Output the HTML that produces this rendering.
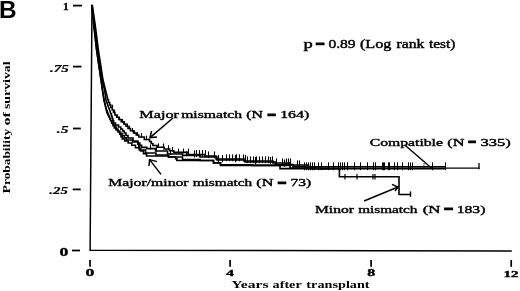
<!DOCTYPE html>
<html><head><meta charset="utf-8"><title>Figure B</title>
<style>
html,body{margin:0;padding:0;background:#fff;}
svg{display:block;}
text{font-family:"Liberation Serif",serif;fill:#000;}
.b{font-family:"Liberation Sans",sans-serif;font-weight:bold;}
</style></head><body>
<svg width="520" height="291" viewBox="0 0 520 291">
<rect width="520" height="291" fill="#fff"/>
<text class="b" x="-1" y="18" font-size="24.4">B</text>
<path d="M92.0 4.6L90.1 250.3L511.8 250.9" fill="none" stroke="#000" stroke-width="1.5"/><path d="M73 5.6H82" stroke="#000" stroke-width="1.8"/><path d="M73 66.6H81.5" stroke="#000" stroke-width="1.8"/><path d="M73 128.5H80.8" stroke="#000" stroke-width="1.8"/><path d="M72.7 189.4H80.7" stroke="#000" stroke-width="1.8"/><path d="M72 250.5H80" stroke="#000" stroke-width="1.8"/><path d="M90 260V266.8" stroke="#000" stroke-width="1.7"/><path d="M230.1 260V266.8" stroke="#000" stroke-width="1.7"/><path d="M371.1 260V266.8" stroke="#000" stroke-width="1.7"/><path d="M511.2 260V266.8" stroke="#000" stroke-width="1.7"/>
<path d="M92.3 5.0 L95.2 25.0 L98.4 50.0 L103.0 80.0 L108.0 100.0 L108.5 100.0 L108.5 102.5 L109.1 102.5 L109.7 102.5 L109.7 105.0 L110.2 105.0 L110.8 105.0 L110.8 107.5 L111.5 107.5 L112.2 107.5 L112.2 110.0 L112.8 110.0 L113.5 110.0 L113.5 112.5 L114.2 112.5 L114.9 112.5 L114.9 115.0 L115.6 115.0 L116.7 115.0 L116.7 117.2 L117.8 117.2 L118.9 117.2 L118.9 119.5 L120.0 119.5 L121.2 119.5 L121.2 121.8 L122.5 121.8 L123.8 121.8 L123.8 124.0 L125.0 124.0 L126.0 124.0 L126.0 126.2 L127.0 126.2 L128.0 126.2 L128.0 128.5 L129.0 128.5 L130.5 128.5 L130.5 130.8 L132.0 130.8 L133.5 130.8 L133.5 133.0 L135.0 133.0 L136.2 133.0 L136.2 135.0 L137.5 135.0 L138.8 135.0 L138.8 137.0 L140.0 137.0 L144.3 137.0 L144.3 139.5 L148.7 139.5 L149.5 139.5 L149.5 141.5 L150.4 141.5 L151.2 141.5 L151.2 143.5 L152.0 143.5 L152.9 143.5 L152.9 145.5 L153.7 145.5 L157.1 145.5 L157.1 147.2 L160.6 147.2 L164.1 147.2 L164.1 149.0 L167.5 149.0 L169.6 149.0 L169.6 150.7 L171.8 150.7 L173.9 150.7 L173.9 152.4 L176.0 152.4 L188.0 152.4 L188.0 154.6 L200.0 154.6 L205.0 154.6 L205.0 156.0 L210.0 156.0 L216.0 156.0 L216.0 159.0 L222.0 159.0 L244.0 159.0 L244.0 161.0 L266.0 161.0 L273.0 161.0 L273.0 163.0 L280.0 163.0 L290.0 163.0 L290.0 165.0 L300.0 165.0 L308.5 165.0 L308.5 166.9 L317.0 166.9 L381.0 166.9 L381.0 166.9 L445.0 166.9" fill="none" stroke="#000" stroke-width="1.6" stroke-linejoin="miter"/>
<path d="M92.0 5.0 L94.5 25.0 L97.5 50.0 L98.7 56.0 L102.0 80.0 L104.6 90.0 L106.0 100.0 L111.0 114.0 L111.4 114.0 L111.4 116.2 L111.8 116.2 L112.1 116.2 L112.1 118.5 L112.5 118.5 L112.9 118.5 L112.9 120.8 L113.2 120.8 L113.6 120.8 L113.6 123.0 L114.0 123.0 L115.5 123.0 L115.5 125.0 L117.0 125.0 L118.5 125.0 L118.5 127.0 L120.0 127.0 L120.8 127.0 L120.8 129.0 L121.7 129.0 L122.5 129.0 L122.5 131.0 L123.3 131.0 L124.2 131.0 L124.2 133.0 L125.0 133.0 L126.0 133.0 L126.0 135.5 L127.0 135.5 L128.0 135.5 L128.0 138.0 L129.0 138.0 L133.0 138.0 L133.0 141.0 L137.0 141.0 L137.9 141.0 L137.9 143.1 L138.8 143.1 L139.8 143.1 L139.8 145.3 L140.7 145.3 L141.6 145.3 L141.6 147.4 L142.5 147.4 L146.8 147.4 L146.8 148.6 L151.0 148.6 L155.5 148.6 L155.5 151.0 L160.0 151.0 L167.5 151.0 L167.5 154.0 L175.0 154.0 L182.5 154.0 L182.5 155.4 L190.0 155.4 L200.0 155.4 L200.0 157.0 L210.0 157.0 L217.0 157.0 L217.0 160.0 L224.0 160.0 L245.0 160.0 L245.0 162.0 L266.0 162.0 L275.5 162.0 L275.5 164.5 L285.0 164.5 L293.0 164.5 L293.0 166.6 L301.0 166.6 L309.0 166.6 L309.0 168.7 L317.0 168.7 L381.0 168.7 L381.0 168.7 L445.0 168.7" fill="none" stroke="#000" stroke-width="1.6" stroke-linejoin="miter"/>
<path d="M91.7 5.0 L93.8 25.0 L96.6 50.0 L101.0 80.0 L104.0 100.0 L107.0 113.0 L111.0 121.0 L111.7 121.0 L111.7 123.3 L112.3 123.3 L113.0 123.3 L113.0 125.7 L113.7 125.7 L114.3 125.7 L114.3 128.0 L115.0 128.0 L116.0 128.0 L116.0 130.0 L117.0 130.0 L118.0 130.0 L118.0 132.0 L119.0 132.0 L119.7 132.0 L119.7 134.3 L120.3 134.3 L121.0 134.3 L121.0 136.7 L121.7 136.7 L122.3 136.7 L122.3 139.0 L123.0 139.0 L124.8 139.0 L124.8 141.0 L126.5 141.0 L128.2 141.0 L128.2 143.0 L130.0 143.0 L131.8 143.0 L131.8 145.3 L133.7 145.3 L135.5 145.3 L135.5 147.7 L137.3 147.7 L139.2 147.7 L139.2 150.0 L141.0 150.0 L145.5 150.0 L145.5 153.0 L150.0 153.0 L156.0 153.0 L156.0 155.0 L162.0 155.0 L168.5 155.0 L168.5 157.0 L175.0 157.0 L182.5 157.0 L182.5 159.5 L190.0 159.5 L200.0 159.5 L200.0 160.5 L210.0 160.5 L213.5 160.5 L213.5 162.7 L217.0 162.7 L220.5 162.7 L220.5 164.8 L224.0 164.8 L252.0 164.8 L252.0 165.4 L280.0 165.4 L290.0 165.4 L290.0 168.0 L300.0 168.0 L319.7 168.0 L319.7 168.6 L339.4 168.6 L339.4 176.8 L369.2 176.8 L369.2 176.8 L399.0 176.8 L399.0 194.5 L404.8 194.5 L404.8 194.5 L410.5 194.5" fill="none" stroke="#000" stroke-width="1.6" stroke-linejoin="miter"/>
<path d="M91.7 5.0 L93.8 25.0 L96.6 50.0 L101.0 80.0 L104.0 100.0 L106.0 108.0 L111.0 121.0 L111.8 121.0 L111.8 123.0 L112.5 123.0 L113.3 123.0 L113.3 125.0 L114.1 125.0 L114.8 125.0 L114.8 127.0 L115.6 127.0 L116.4 127.0 L116.4 129.0 L117.2 129.0 L117.9 129.0 L117.9 131.0 L118.7 131.0 L119.8 131.0 L119.8 133.2 L120.9 133.2 L122.0 133.2 L122.0 135.5 L123.1 135.5 L124.2 135.5 L124.2 137.8 L125.3 137.8 L126.4 137.8 L126.4 140.0 L127.5 140.0 L132.5 140.0 L132.5 142.0 L137.5 142.0 L137.9 142.0 L137.9 144.2 L138.4 144.2 L138.8 144.2 L138.8 146.5 L139.2 146.5 L139.7 146.5 L139.7 148.8 L140.1 148.8 L140.6 148.8 L140.6 151.0 L141.0 151.0 L143.5 151.0 L143.5 153.6 L146.0 153.6 L146.5 153.6 L146.5 156.0 L147.0 156.0 L154.5 156.0 L154.5 156.0 L162.0 156.0 L168.5 156.0 L168.5 157.0 L175.0 157.0 L175.6 157.0 L175.6 158.8 L176.2 158.8 L176.9 158.8 L176.9 160.5 L177.5 160.5 L193.8 160.5 L193.8 160.5 L210.0 160.5 L213.5 160.5 L213.5 162.9 L217.0 162.9 L220.5 162.9 L220.5 165.4 L224.0 165.4 L252.0 165.4 L252.0 165.4 L280.0 165.4 L280.0 168.6 L305.0 168.6 L305.0 168.6 L330.0 168.6" fill="none" stroke="#000" stroke-width="1.6" stroke-linejoin="miter"/>
<path d="M445 168.1H479.5" stroke="#000" stroke-width="1.3"/>
<path d="M141.5 133.2V137.8" stroke="#000" stroke-width="1.1"/>
<path d="M146.5 135.7V140.3" stroke="#000" stroke-width="1.1"/>
<path d="M158.5 143.4V148.1" stroke="#000" stroke-width="1.1"/>
<path d="M163.5 143.4V148.1" stroke="#000" stroke-width="1.1"/>
<path d="M168.5 145.2V149.8" stroke="#000" stroke-width="1.1"/>
<path d="M172.5 146.9V151.5" stroke="#000" stroke-width="1.1"/>
<path d="M178.5 148.6V153.2" stroke="#000" stroke-width="1.1"/>
<path d="M183.5 148.6V153.2" stroke="#000" stroke-width="1.1"/>
<path d="M188.5 148.6V153.2" stroke="#000" stroke-width="1.1"/>
<path d="M196.5 150.0V156.8" stroke="#000" stroke-width="1.1"/>
<path d="M199.5 150.0V156.8" stroke="#000" stroke-width="1.1"/>
<path d="M202.5 150.0V156.8" stroke="#000" stroke-width="1.1"/>
<path d="M205.5 150.0V156.8" stroke="#000" stroke-width="1.1"/>
<path d="M208.5 151.4V158.2" stroke="#000" stroke-width="1.1"/>
<path d="M214.5 151.4V158.2" stroke="#000" stroke-width="1.1"/>
<path d="M226.5 154.4V161.2" stroke="#000" stroke-width="1.1"/>
<path d="M229.5 154.4V161.2" stroke="#000" stroke-width="1.1"/>
<path d="M232.5 154.4V161.2" stroke="#000" stroke-width="1.1"/>
<path d="M236.5 154.4V161.2" stroke="#000" stroke-width="1.1"/>
<path d="M239.5 154.4V161.2" stroke="#000" stroke-width="1.1"/>
<path d="M243.5 154.4V161.2" stroke="#000" stroke-width="1.1"/>
<path d="M247.5 156.4V163.2" stroke="#000" stroke-width="1.1"/>
<path d="M250.5 156.4V163.2" stroke="#000" stroke-width="1.1"/>
<path d="M253.5 156.4V163.2" stroke="#000" stroke-width="1.1"/>
<path d="M256.5 156.4V163.2" stroke="#000" stroke-width="1.1"/>
<path d="M259.5 156.4V163.2" stroke="#000" stroke-width="1.1"/>
<path d="M262.5 156.4V163.2" stroke="#000" stroke-width="1.1"/>
<path d="M265.5 156.4V163.2" stroke="#000" stroke-width="1.1"/>
<path d="M268.5 156.4V163.2" stroke="#000" stroke-width="1.1"/>
<path d="M272.5 156.4V163.2" stroke="#000" stroke-width="1.1"/>
<path d="M276.5 158.4V165.2" stroke="#000" stroke-width="1.1"/>
<path d="M282.5 158.4V165.2" stroke="#000" stroke-width="1.1"/>
<path d="M286.5 158.4V165.2" stroke="#000" stroke-width="1.1"/>
<path d="M288.5 158.4V165.2" stroke="#000" stroke-width="1.1"/>
<path d="M290.5 158.4V165.2" stroke="#000" stroke-width="1.1"/>
<path d="M297.5 160.4V167.2" stroke="#000" stroke-width="1.1"/>
<path d="M299.5 160.4V167.2" stroke="#000" stroke-width="1.1"/>
<path d="M112.5 104.7V108.3" stroke="#000" stroke-width="1.1"/>
<path d="M114.5 109.7V113.3" stroke="#000" stroke-width="1.1"/>
<path d="M117.5 114.5V118.0" stroke="#000" stroke-width="1.1"/>
<path d="M119.5 116.7V120.3" stroke="#000" stroke-width="1.1"/>
<path d="M122.5 119.0V122.5" stroke="#000" stroke-width="1.1"/>
<path d="M124.5 121.2V124.8" stroke="#000" stroke-width="1.1"/>
<path d="M127.5 123.5V127.0" stroke="#000" stroke-width="1.1"/>
<path d="M129.5 125.7V129.3" stroke="#000" stroke-width="1.1"/>
<path d="M132.5 128.0V131.6" stroke="#000" stroke-width="1.1"/>
<path d="M134.5 130.2V133.8" stroke="#000" stroke-width="1.1"/>
<path d="M137.5 132.2V135.8" stroke="#000" stroke-width="1.1"/>
<path d="M150.5 144.4V149.4" stroke="#000" stroke-width="1.1"/>
<path d="M156.5 146.8V151.8" stroke="#000" stroke-width="1.1"/>
<path d="M170.5 149.8V154.8" stroke="#000" stroke-width="1.1"/>
<path d="M186.5 151.2V156.2" stroke="#000" stroke-width="1.1"/>
<path d="M194.5 150.4V157.6" stroke="#000" stroke-width="1.1"/>
<path d="M218.5 155.0V162.2" stroke="#000" stroke-width="1.1"/>
<path d="M222.5 155.0V162.2" stroke="#000" stroke-width="1.1"/>
<path d="M235.5 155.0V162.2" stroke="#000" stroke-width="1.1"/>
<path d="M245.5 155.0V162.2" stroke="#000" stroke-width="1.1"/>
<path d="M255.5 157.0V164.2" stroke="#000" stroke-width="1.1"/>
<path d="M270.5 157.0V164.2" stroke="#000" stroke-width="1.1"/>
<path d="M284.5 159.5V166.7" stroke="#000" stroke-width="1.1"/>
<path d="M304.5 162.4V170.2" stroke="#000" stroke-width="1.05"/>
<path d="M306.5 162.4V170.2" stroke="#000" stroke-width="1.05"/>
<path d="M308.5 162.4V170.2" stroke="#000" stroke-width="1.05"/>
<path d="M310.5 162.4V170.2" stroke="#000" stroke-width="1.05"/>
<path d="M312.5 162.4V170.2" stroke="#000" stroke-width="1.05"/>
<path d="M314.5 162.4V170.2" stroke="#000" stroke-width="1.05"/>
<path d="M318.5 162.4V170.2" stroke="#000" stroke-width="1.05"/>
<path d="M321.5 162.4V170.2" stroke="#000" stroke-width="1.05"/>
<path d="M328.5 162.4V170.2" stroke="#000" stroke-width="1.05"/>
<path d="M333.5 162.4V170.2" stroke="#000" stroke-width="1.05"/>
<path d="M338.5 162.4V170.2" stroke="#000" stroke-width="1.05"/>
<path d="M340.5 162.4V170.2" stroke="#000" stroke-width="1.05"/>
<path d="M342.5 162.4V170.2" stroke="#000" stroke-width="1.05"/>
<path d="M344.5 162.4V170.2" stroke="#000" stroke-width="1.05"/>
<path d="M347.5 162.4V170.2" stroke="#000" stroke-width="1.05"/>
<path d="M354.5 162.4V170.2" stroke="#000" stroke-width="1.05"/>
<path d="M360.5 162.4V170.2" stroke="#000" stroke-width="1.05"/>
<path d="M367.5 162.4V170.2" stroke="#000" stroke-width="1.05"/>
<path d="M373.5 162.4V170.2" stroke="#000" stroke-width="1.05"/>
<path d="M375.5 162.4V170.2" stroke="#000" stroke-width="1.05"/>
<path d="M382.5 162.4V170.2" stroke="#000" stroke-width="1.05"/>
<path d="M383.5 162.4V170.2" stroke="#000" stroke-width="1.05"/>
<path d="M384.5 162.4V170.2" stroke="#000" stroke-width="1.05"/>
<path d="M388.5 162.4V170.2" stroke="#000" stroke-width="1.05"/>
<path d="M389.5 162.4V170.2" stroke="#000" stroke-width="1.05"/>
<path d="M394.5 162.4V170.2" stroke="#000" stroke-width="1.05"/>
<path d="M397.5 162.4V170.2" stroke="#000" stroke-width="1.05"/>
<path d="M402.5 162.4V170.2" stroke="#000" stroke-width="1.05"/>
<path d="M408.5 162.4V170.2" stroke="#000" stroke-width="1.05"/>
<path d="M410.5 162.4V170.2" stroke="#000" stroke-width="1.05"/>
<path d="M412.5 162.4V170.2" stroke="#000" stroke-width="1.05"/>
<path d="M432.5 162.4V170.2" stroke="#000" stroke-width="1.05"/>
<path d="M445.5 162.4V170.2" stroke="#000" stroke-width="1.05"/>
<path d="M424 163V168" stroke="#000" stroke-width="0.7"/>
<path d="M479 163V169.2" stroke="#000" stroke-width="1.3"/>
<path d="M345.0 174V179.4" stroke="#000" stroke-width="1.2"/>
<path d="M357.0 174V179.4" stroke="#000" stroke-width="1.2"/>
<path d="M373.0 174V179.4" stroke="#000" stroke-width="1.2"/>
<path d="M375.0 174V179.4" stroke="#000" stroke-width="1.2"/>
<path d="M410.5 191.4V196.8" stroke="#000" stroke-width="1.4"/>
<path d="M173 118L150 137.6" stroke="#000" stroke-width="1.5" fill="none"/><path d="M151.6 131L150 137.6L157 137" stroke="#000" stroke-width="1.5" fill="none"/><path d="M161 174.4L149.6 159.6" stroke="#000" stroke-width="1.5" fill="none"/><path d="M149 166L149.6 159.6L157 161.6" stroke="#000" stroke-width="1.5" fill="none"/><path d="M364 201L398 187" stroke="#000" stroke-width="1.5" fill="none"/><path d="M392 184.4L398 187L395 191" stroke="#000" stroke-width="1.5" fill="none"/><path d="M404.5 144.7L432.3 168.7" stroke="#000" stroke-width="1.4"/>
<text y="47.7" font-size="11.5" font-weight="normal" stroke="#000" stroke-width="0.38"><tspan x="303.47" textLength="9.28" lengthAdjust="spacingAndGlyphs">p</tspan> <tspan x="315.70" dy="-1.1" font-size="8.28" stroke="#000" stroke-width="0.9" textLength="8.79" lengthAdjust="spacingAndGlyphs">=</tspan> <tspan x="328.46" dy="1.1" textLength="27.16" lengthAdjust="spacingAndGlyphs">0.89</tspan> <tspan x="359.95" textLength="31.54" lengthAdjust="spacingAndGlyphs">(Log</tspan> <tspan x="396.59" textLength="27.81" lengthAdjust="spacingAndGlyphs">rank</tspan> <tspan x="428.92" textLength="26.49" lengthAdjust="spacingAndGlyphs">test)</tspan></text><text y="118.2" font-size="10.3" font-weight="normal" stroke="#000" stroke-width="0.38"><tspan x="139.35" textLength="39.53" lengthAdjust="spacingAndGlyphs">Major</tspan> <tspan x="181.19" textLength="60.82" lengthAdjust="spacingAndGlyphs">mismatch</tspan> <tspan x="246.27" textLength="16.68" lengthAdjust="spacingAndGlyphs">(N</tspan> <tspan x="267.55" dy="-0.4" font-size="7.42" stroke="#000" stroke-width="0.9" textLength="8.19" lengthAdjust="spacingAndGlyphs">=</tspan> <tspan x="280.15" dy="0.4" textLength="29.03" lengthAdjust="spacingAndGlyphs">164)</tspan></text><text y="145.7" font-size="10.6" font-weight="normal" stroke="#000" stroke-width="0.38"><tspan x="369.77" textLength="73.16" lengthAdjust="spacingAndGlyphs">Compatible</tspan> <tspan x="447.35" textLength="17.21" lengthAdjust="spacingAndGlyphs">(N</tspan> <tspan x="468.19" dy="-0.4" font-size="7.63" stroke="#000" stroke-width="0.9" textLength="7.60" lengthAdjust="spacingAndGlyphs">=</tspan> <tspan x="480.46" dy="0.4" textLength="30.25" lengthAdjust="spacingAndGlyphs">335)</tspan></text><text y="186.0" font-size="10.3" font-weight="normal" stroke="#000" stroke-width="0.38"><tspan x="108.21" textLength="80.42" lengthAdjust="spacingAndGlyphs">Major/minor</tspan> <tspan x="192.69" textLength="59.46" lengthAdjust="spacingAndGlyphs">mismatch</tspan> <tspan x="256.25" textLength="17.11" lengthAdjust="spacingAndGlyphs">(N</tspan> <tspan x="277.83" dy="-0.4" font-size="7.42" stroke="#000" stroke-width="0.9" textLength="8.43" lengthAdjust="spacingAndGlyphs">=</tspan> <tspan x="290.49" dy="0.4" textLength="20.78" lengthAdjust="spacingAndGlyphs">73)</tspan></text><text y="212.6" font-size="10.3" font-weight="normal" stroke="#000" stroke-width="0.38"><tspan x="315.01" textLength="38.96" lengthAdjust="spacingAndGlyphs">Minor</tspan> <tspan x="358.20" textLength="59.26" lengthAdjust="spacingAndGlyphs">mismatch</tspan> <tspan x="422.73" textLength="17.75" lengthAdjust="spacingAndGlyphs">(N</tspan> <tspan x="444.21" dy="-0.4" font-size="7.42" stroke="#000" stroke-width="0.9" textLength="8.67" lengthAdjust="spacingAndGlyphs">=</tspan> <tspan x="456.66" dy="0.4" textLength="28.81" lengthAdjust="spacingAndGlyphs">183)</tspan></text><text y="288.1" font-size="9.8" font-weight="bold"><tspan x="231.17" textLength="37.41" lengthAdjust="spacingAndGlyphs">Years</tspan> <tspan x="272.58" textLength="28.89" lengthAdjust="spacingAndGlyphs">after</tspan> <tspan x="306.39" textLength="63.26" lengthAdjust="spacingAndGlyphs">transplant</tspan></text><text y="10.2" font-size="9.9" font-weight="bold" stroke="#000" stroke-width="0.35"><tspan x="62.99" textLength="5.68" lengthAdjust="spacingAndGlyphs">1</tspan></text><text y="72" font-size="10.5" font-weight="bold" font-style="italic" stroke="#000" stroke-width="0.2"><tspan x="49.92" textLength="18.95" lengthAdjust="spacingAndGlyphs">.75</tspan></text><text y="133.1" font-size="10.5" font-weight="bold" font-style="italic" stroke="#000" stroke-width="0.2"><tspan x="56.82" textLength="11.67" lengthAdjust="spacingAndGlyphs">.5</tspan></text><text y="194" font-size="10.5" font-weight="bold" font-style="italic" stroke="#000" stroke-width="0.2"><tspan x="49.33" textLength="18.55" lengthAdjust="spacingAndGlyphs">.25</tspan></text><text y="256.0" font-size="11.5" font-weight="bold" stroke="#000" stroke-width="0.35"><tspan x="59.58" textLength="8.84" lengthAdjust="spacingAndGlyphs">0</tspan></text><text y="275.8" font-size="10.4" font-weight="bold" stroke="#000" stroke-width="0.35"><tspan x="85.58" textLength="8.84" lengthAdjust="spacingAndGlyphs">0</tspan></text><text y="275.8" font-size="8.7" font-weight="bold" stroke="#000" stroke-width="0.35"><tspan x="226.04" textLength="8.00" lengthAdjust="spacingAndGlyphs">4</tspan></text><text y="276.4" font-size="9.6" font-weight="bold" stroke="#000" stroke-width="0.35"><tspan x="367.32" textLength="7.95" lengthAdjust="spacingAndGlyphs">8</tspan></text><text y="276.5" font-size="9.0" font-weight="bold" stroke="#000" stroke-width="0.35"><tspan x="503.60" textLength="15.00" lengthAdjust="spacingAndGlyphs">12</tspan></text><text transform="translate(9.9,193) rotate(-90)" y="0" font-size="9.7" font-weight="bold"><tspan x="-0.20" textLength="64.27" lengthAdjust="spacingAndGlyphs">Probability</tspan> <tspan x="67.44" textLength="13.37" lengthAdjust="spacingAndGlyphs">of</tspan> <tspan x="83.99" textLength="47.59" lengthAdjust="spacingAndGlyphs">survival</tspan></text>
</svg>
</body></html>
